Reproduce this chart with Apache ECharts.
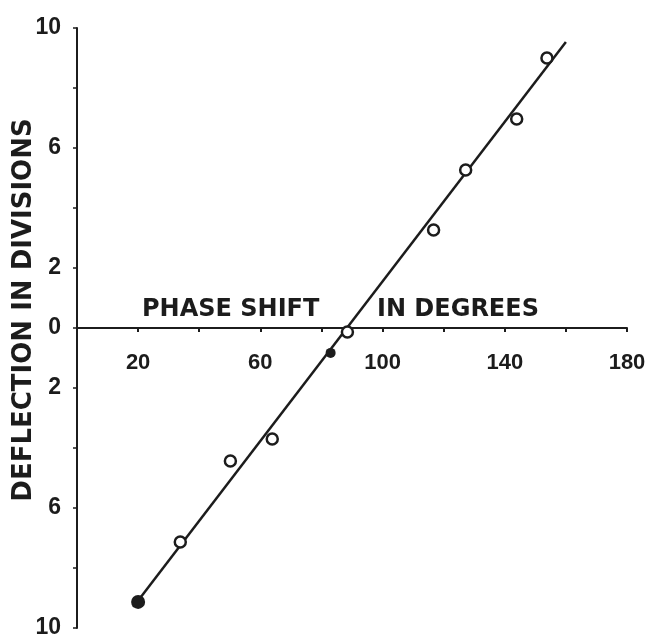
<!DOCTYPE html>
<html>
<head>
<meta charset="utf-8">
<script src="https://cdn.jsdelivr.net/npm/echarts@6/dist/echarts.min.js"></script>
<style>html,body{margin:0;padding:0;background:#fff}#c{width:647px;height:640px}</style>
</head>
<body>
<div id="c"></div>
<script>
// Data
const openX = [33.8, 50.2, 63.9, 88.5, 116.7, 127.2, 143.9, 153.8];
const openY = [-7.13, -4.43, -3.7, -0.13, 3.27, 5.27, 6.97, 9.0];
const filledX = [20, 83.0];
const filledY = [-9.13, -0.83];
const fitX = [18.4, 160];
const fitY = [-9.3, 9.53];
const xTickLabels = [20, 60, 100, 140, 180];
const yTickLabels = [10, 6, 2, 0, -2, -6, -10];
const xName1 = 'PHASE SHIFT';
const xName2 = 'IN DEGREES';
const yName = 'DEFLECTION IN DIVISIONS';

const ink = '#1c1c1c';
const chart = echarts.init(document.getElementById('c'));
const pair = (xs, ys) => xs.map((x, i) => [x, ys[i]]);

chart.setOption({
  animation: false,
  backgroundColor: '#fff',
  grid: [
    { left: 77, right: 20, top: 28, bottom: 12, containLabel: false, outerBoundsMode: 'none' },
    { left: 77, right: 20, top: 28, bottom: 312, containLabel: false, outerBoundsMode: 'none' }
  ],
  xAxis: [
    { type: 'value', gridIndex: 0, min: 0, max: 180, interval: 20, show: false },
    {
      type: 'value', gridIndex: 1, min: 0, max: 180, interval: 20, position: 'bottom',
      axisLine: { onZero: false, lineStyle: { color: ink, width: 2 } },
      axisTick: { show: true, length: 4, lineStyle: { color: ink, width: 2 } },
      splitLine: { show: false },
      axisLabel: {
        margin: 24, color: ink, fontFamily: 'Liberation Sans', fontWeight: 'bold', fontSize: 22,
        formatter: v => xTickLabels.includes(v) ? String(v) : ''
      }
    }
  ],
  yAxis: [
    {
      type: 'value', gridIndex: 0, min: -10, max: 10, interval: 2,
      axisLine: { onZero: false, lineStyle: { color: ink, width: 2 } },
      axisTick: { show: true, length: 4, lineStyle: { color: ink, width: 1.5 } },
      splitLine: { show: false },
      axisLabel: {
        margin: 16, color: ink, fontFamily: 'Liberation Sans', fontWeight: 'bold', fontSize: 23,
        formatter: v => yTickLabels.includes(v) ? String(Math.abs(v)) : ''
      }
    },
    { type: 'value', gridIndex: 1, min: 0, max: 10, show: false }
  ],
  graphic: [
    { type: 'text', left: 142, top: 298, z: 10,
      style: { text: xName1, fill: ink, font: 'bold 24px "DejaVu Sans"' } },
    { type: 'text', left: 377, top: 298, z: 10,
      style: { text: xName2, fill: ink, font: 'bold 24px "DejaVu Sans"' } },
    { type: 'text', x: 24, y: 310, rotation: Math.PI / 2, z: 10,
      style: { text: yName, fill: ink, font: 'bold 26px "DejaVu Sans"', align: 'center', verticalAlign: 'middle' } }
  ],
  series: [
    { type: 'line', xAxisIndex: 0, yAxisIndex: 0, data: pair(fitX, fitY), symbol: 'none', z: 2,
      lineStyle: { color: ink, width: 2.5 } },
    { type: 'scatter', xAxisIndex: 0, yAxisIndex: 0, data: pair(openX, openY), symbol: 'circle', symbolSize: 11, z: 3,
      itemStyle: { color: '#fff', borderColor: ink, borderWidth: 2.5, opacity: 1 } },
    { type: 'scatter', xAxisIndex: 0, yAxisIndex: 0, data: pair(filledX, filledY), symbol: 'circle',
      symbolSize: (v, p) => p.dataIndex === 0 ? 14 : 10, z: 3,
      itemStyle: { color: ink, opacity: 1 } }
  ]
});
</script>
</body>
</html>
